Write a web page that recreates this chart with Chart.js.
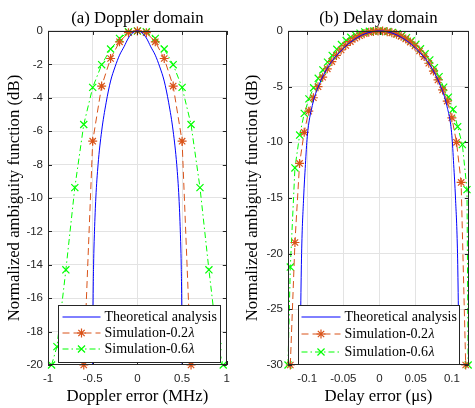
<!DOCTYPE html>
<html>
<head>
<meta charset="utf-8">
<script src="https://cdn.jsdelivr.net/npm/chart.js@4.4.1/dist/chart.umd.min.js"></script>
<style>
  html, body { margin: 0; padding: 0; background: #fff; }
  #wrap { position: relative; width: 475px; height: 408px; }
  canvas { position: absolute; top: 0; }
  #doppler { left: 0; }
  #delay { left: 237px; }
</style>
</head>
<body>
<div id="wrap">
  <canvas id="doppler" width="237" height="408"></canvas>
  <canvas id="delay" width="238" height="408"></canvas>
</div>
<script>
// ---- (a) Doppler domain ----
const dopTheoryX = [-0.5, -0.497, -0.49, -0.48, -0.465, -0.44, -0.4, -0.35, -0.3, -0.25, -0.2, -0.15, -0.1, -0.05, 0,
                    0.05, 0.1, 0.15, 0.2, 0.25, 0.3, 0.35, 0.4, 0.44, 0.465, 0.48, 0.49, 0.497, 0.5];
const dopTheoryY = [-20, -17, -14, -12, -10, -8, -6, -4.3, -3.0, -2.15, -1.45, -0.95, -0.42, -0.1, 0,
                    -0.1, -0.42, -0.95, -1.45, -2.15, -3.0, -4.3, -6, -8, -10, -12, -14, -17, -20];
const dopSim02X = [-0.6, -0.5, -0.4, -0.3, -0.2, -0.1, 0, 0.1, 0.2, 0.3, 0.4, 0.5, 0.6];
const dopSim02Y = [-20, -6.6, -3.3, -1.65, -0.65, -0.1, 0, -0.1, -0.65, -1.65, -3.3, -6.6, -20];
const dopSim06X = [-0.96, -0.9, -0.8, -0.7, -0.6, -0.5, -0.4, -0.3, -0.2, -0.1, 0, 0.1, 0.2, 0.3, 0.4, 0.5, 0.6, 0.7, 0.8, 0.9, 0.96];
const dopSim06Y = [-20, -18.9, -14.3, -9.38, -5.6, -3.38, -2.02, -1.08, -0.45, -0.05, 0, -0.05, -0.45, -1.08, -2.02, -3.38, -5.6, -9.38, -14.3, -18.9, -20];
const dopXTicks = [-1, -0.5, 0, 0.5, 1];
const dopYTicks = [-20, -18, -16, -14, -12, -10, -8, -6, -4, -2, 0];

// ---- (b) Delay domain ----
const delTheoryX = [-0.1098, -0.109, -0.1078, -0.105, -0.1025, -0.1, -0.093, -0.084, -0.07, -0.055, -0.04, -0.02, 0,
                    0.02, 0.04, 0.055, 0.07, 0.084, 0.093, 0.1, 0.1025, 0.105, 0.1078, 0.109, 0.1098];
const delTheoryY = [-30, -25, -20, -15, -12, -9.5, -6.7, -4.9, -3.1, -1.9, -1.0, -0.25, 0,
                    -0.25, -1.0, -1.9, -3.1, -4.9, -6.7, -9.4, -12, -15, -20, -25, -30];
const delSim02X = [-0.1234, -0.117, -0.1106, -0.1042, -0.0979, -0.0915, -0.0851, -0.0787, -0.0723, -0.066,
                   -0.0596, -0.0532, -0.0468, -0.0404, -0.034, -0.0277, -0.0213, -0.0149, -0.0085, -0.0021,
                   0.0042, 0.0106, 0.017, 0.0234, 0.0298, 0.0362, 0.0425, 0.0489, 0.0553, 0.0617,
                   0.0681, 0.0745, 0.0808, 0.0872, 0.0936, 0.1, 0.1064, 0.1128, 0.1191];
const delSim02Y = [-30, -19.0, -11.9, -9.1, -7.2, -6.0, -5.0, -4.15, -3.4, -2.75,
                   -2.2, -1.7, -1.3, -0.95, -0.65, -0.42, -0.25, -0.12, -0.04, 0,
                   -0.01, -0.07, -0.17, -0.3, -0.48, -0.72, -1.0, -1.35, -1.8, -2.3,
                   -2.9, -3.6, -4.4, -5.3, -6.3, -7.8, -10.0, -13.6, -30];
const delSim06X = [-0.1266, -0.1234, -0.117, -0.1105, -0.1041, -0.0977, -0.0912, -0.0848, -0.0784, -0.072,
                   -0.0655, -0.0591, -0.0527, -0.0462, -0.0398, -0.0334, -0.027, -0.0205, -0.0141, -0.0077,
                   -0.0012, 0.0052, 0.0116, 0.018, 0.0245, 0.0309, 0.0373, 0.0438, 0.0502, 0.0566,
                   0.063, 0.0695, 0.0759, 0.0823, 0.0887, 0.0952, 0.1016, 0.108, 0.1145, 0.1209, 0.1225];
const delSim06Y = [-30, -21.2, -12.3, -9.35, -7.4, -6.1, -5.1, -4.25, -3.5, -2.8,
                   -2.2, -1.65, -1.22, -0.86, -0.57, -0.35, -0.2, -0.09, -0.03, 0,
                   0, -0.01, -0.05, -0.13, -0.25, -0.4, -0.6, -0.88, -1.2, -1.6,
                   -2.05, -2.6, -3.3, -4.1, -5.05, -5.95, -7.05, -8.6, -10.2, -14.25, -30];
const delXTicks = [-0.1, -0.05, 0, 0.05, 0.1];
const delYTicks = [-30, -25, -20, -15, -10, -5, 0];

const seriesLabels = ['Theoretical analysis', 'Simulation-0.2\u03bb', 'Simulation-0.6\u03bb'];

const SERIF = '"Liberation Serif", "Times New Roman", serif';
const SANS = '"Liberation Sans", Arial, sans-serif';
const AXIS_COLOR = '#262626';
const LABEL_SIZE = 16.8;

const pts = (xs, ys) => xs.map((x, i) => ({ x: x, y: ys[i] }));

// box, inward tick marks and legend, drawn on top of the data like MATLAB axes
const axesBox = {
    id: 'axesBox',
    afterDatasetsDraw(chart, args, opts) {
        const { ctx, chartArea: a, scales: { x, y } } = chart;
        ctx.save();
        ctx.setLineDash([]);
        ctx.strokeStyle = AXIS_COLOR;
        ctx.lineWidth = 1;
        ctx.beginPath();
        x.ticks.forEach(t => {
            const px = Math.round(x.getPixelForValue(t.value)) + 0.5;
            ctx.moveTo(px, a.bottom); ctx.lineTo(px, a.bottom - 4);
            ctx.moveTo(px, a.top); ctx.lineTo(px, a.top + 4);
        });
        y.ticks.forEach(t => {
            const py = Math.round(y.getPixelForValue(t.value)) + 0.5;
            ctx.moveTo(a.left, py); ctx.lineTo(a.left + 4, py);
            ctx.moveTo(a.right, py); ctx.lineTo(a.right - 4, py);
        });
        ctx.stroke();
        ctx.strokeRect(Math.round(a.left) + 0.5, Math.round(a.top) + 0.5,
                       Math.round(a.right - a.left) - 1, Math.round(a.bottom - a.top) - 1);

        // legend
        const L = opts.legend;
        const bx = Math.round(a.left + L.left);
        const bw = Math.round(a.right - L.right) - bx;
        const by = Math.round(a.bottom - L.bottom - L.height);
        ctx.fillStyle = '#fff';
        ctx.fillRect(bx, by, bw, L.height);
        ctx.strokeStyle = AXIS_COLOR;
        ctx.strokeRect(bx + 0.5, by + 0.5, bw - 1, L.height - 1);

        chart.data.datasets.forEach((ds, i) => {
            const cy = Math.round(by + L.firstRow + i * L.rowGap);
            const x0 = bx + L.lineStart, x1 = x0 + L.lineLen;
            ctx.save();
            ctx.strokeStyle = ds.borderColor;
            ctx.lineWidth = ds.borderWidth;
            ctx.setLineDash(ds.borderDash || []);
            ctx.beginPath();
            ctx.moveTo(x0, cy); ctx.lineTo(x1, cy);
            ctx.stroke();
            ctx.restore();
            if (ds.pointRadius > 0) {
                ctx.save();
                ctx.setLineDash([]);
                ctx.fillStyle = ds.pointBorderColor;
                ctx.strokeStyle = ds.pointBorderColor;
                ctx.lineWidth = ds.pointBorderWidth;
                Chart.helpers.drawPoint(ctx, {
                    pointStyle: ds.pointStyle, radius: ds.pointRadius,
                    borderWidth: ds.pointBorderWidth, rotation: 0
                }, (x0 + x1) / 2, cy);
                ctx.restore();
            }
            ctx.fillStyle = '#000';
            ctx.textBaseline = 'middle';
            ctx.textAlign = 'left';
            let label = ds.label, tail = '';
            if (label.endsWith('\u03bb')) { tail = '\u03bb'; label = label.slice(0, -1); }
            ctx.font = L.fontSize + 'px ' + SERIF;
            ctx.fillText(label, x1 + L.textGap, cy);
            if (tail) {
                const w = ctx.measureText(label).width;
                ctx.font = 'italic ' + L.fontSize + 'px ' + SERIF;
                ctx.fillText(tail, x1 + L.textGap + w + 0.5, cy);
            }
        });
        ctx.restore();
    }
};

function makeDatasets(th, s02, s06) {
    return [
        {
            label: seriesLabels[0], data: th,
            borderColor: '#0000ff', borderWidth: 1, pointRadius: 0,
            cubicInterpolationMode: 'monotone', clip: false
        },
        {
            label: seriesLabels[1], data: s02,
            borderColor: '#d95319', borderWidth: 1, borderDash: [7, 4],
            pointStyle: 'star', pointRadius: 4.5, pointBorderWidth: 1.2,
            pointBorderColor: '#d95319', pointBackgroundColor: '#d95319',
            tension: 0, clip: false
        },
        {
            label: seriesLabels[2], data: s06,
            borderColor: '#00ff00', borderWidth: 1, borderDash: [6, 3, 1.5, 3],
            pointStyle: 'crossRot', pointRadius: 5, pointBorderWidth: 1.2,
            pointBorderColor: '#00ff00', pointBackgroundColor: '#00ff00',
            tension: 0, clip: false
        }
    ];
}

function makeChart(canvasId, cfg) {
    return new Chart(document.getElementById(canvasId), {
        type: 'line',
        data: { datasets: makeDatasets(cfg.th, cfg.s02, cfg.s06) },
        options: {
            responsive: false,
            animation: false,
            events: [],
            devicePixelRatio: 1,
            layout: { padding: cfg.padding },
            plugins: {
                legend: { display: false },
                tooltip: { enabled: false },
                title: {
                    display: true, text: cfg.title, fullSize: false,
                    color: '#000', font: { family: SERIF, size: LABEL_SIZE, weight: 'normal' },
                    padding: { top: 8.8, bottom: 2 }
                },
                axesBox: { legend: cfg.legend }
            },
            scales: {
                x: {
                    type: 'linear', min: cfg.xMin, max: cfg.xMax,
                    afterBuildTicks: s => { s.ticks = cfg.xTicks.map(v => ({ value: v })); },
                    afterFit: s => { s.height = 43; },
                    grid: { color: '#e3e3e3', drawTicks: false },
                    border: { display: false },
                    ticks: {
                        autoSkip: false, maxRotation: 0, padding: 7,
                        color: AXIS_COLOR, font: { family: SANS, size: 11.5 },
                        callback: v => String(v)
                    },
                    title: {
                        display: true, text: cfg.xTitle, color: '#000',
                        font: { family: SERIF, size: LABEL_SIZE, weight: 'normal' },
                        padding: { top: 0, bottom: 1 }
                    }
                },
                y: {
                    type: 'linear', min: cfg.yMin, max: 0,
                    afterBuildTicks: s => { s.ticks = cfg.yTicks.map(v => ({ value: v })); },
                    afterFit: s => { s.width = cfg.yWidth; },
                    grid: { color: '#e3e3e3', drawTicks: false },
                    border: { display: false },
                    ticks: {
                        autoSkip: false, padding: 5,
                        color: AXIS_COLOR, font: { family: SANS, size: 11.5 },
                        callback: v => String(v)
                    },
                    title: {
                        display: true, text: 'Normalized ambiguity function (dB)', color: '#000',
                        font: { family: SERIF, size: LABEL_SIZE, weight: 'normal' },
                        padding: { top: cfg.yTitlePad, bottom: 0 }
                    }
                }
            }
        },
        plugins: [axesBox]
    });
}

makeChart('doppler', {
    title: '(a) Doppler domain',
    xTitle: 'Doppler error (MHz)',
    th: pts(dopTheoryX, dopTheoryY),
    s02: pts(dopSim02X, dopSim02Y),
    s06: pts(dopSim06X, dopSim06Y),
    xMin: -1, xMax: 1, yMin: -20,
    xTicks: dopXTicks, yTicks: dopYTicks,
    yWidth: 48, yTitlePad: 5,
    padding: { left: 0, right: 7, top: 0, bottom: 0 },
    legend: { left: 10, right: 6, bottom: 2, height: 58, firstRow: 11.7, rowGap: 16.2,
              lineStart: 4.5, lineLen: 38, textGap: 4, fontSize: 14 }
});

makeChart('delay', {
    title: '(b) Delay domain',
    xTitle: 'Delay error (\u03bcs)',
    th: pts(delTheoryX, delTheoryY),
    s02: pts(delSim02X, delSim02Y),
    s06: pts(delSim06X, delSim06Y),
    xMin: -0.1266, xMax: 0.1234, yMin: -30,
    xTicks: delXTicks, yTicks: delYTicks,
    yWidth: 51, yTitlePad: 6,
    padding: { left: 0, right: 3, top: 0, bottom: 0 },
    legend: { left: 10, right: 9, bottom: 0, height: 60, firstRow: 11.7, rowGap: 17.5,
              lineStart: 3.5, lineLen: 39, textGap: 4, fontSize: 14 }
});
</script>
</body>
</html>
